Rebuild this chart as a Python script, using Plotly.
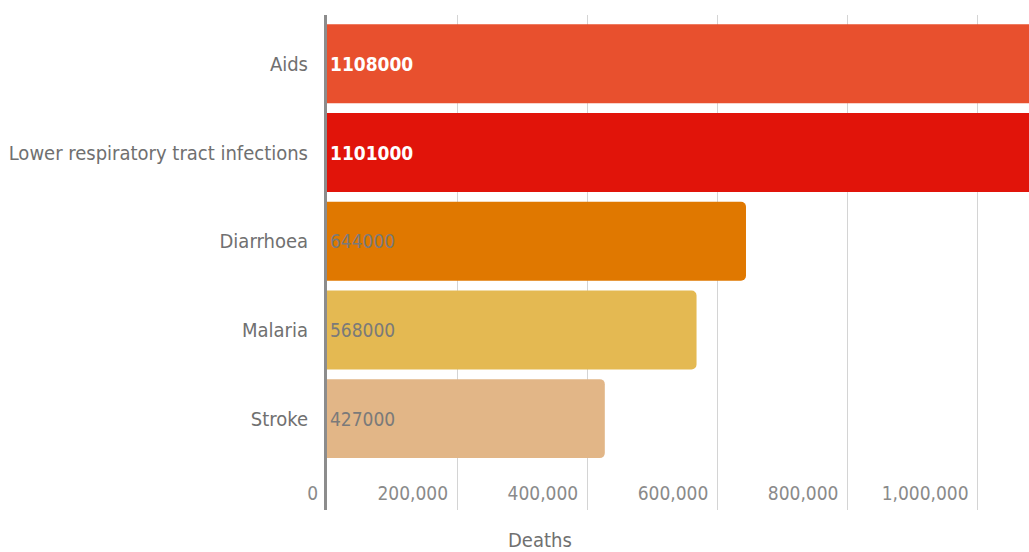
import plotly.graph_objects as go

# Leading causes of death
causes = ["Aids", "Lower respiratory tract infections", "Diarrhoea", "Malaria", "Stroke"]
deaths = [1108000, 1101000, 644000, 568000, 427000]
bar_colors = ["#E8502E", "#E1140A", "#E07800", "#E4B952", "#E2B687"]
label_colors = ["#FFFFFF", "#FFFFFF", "#7A7A7A", "#7A7A7A", "#7A7A7A"]
label_bold = [True, True, False, False, False]
x_ticks = [0, 200000, 400000, 600000, 800000, 1000000]

FONT = "Liberation Sans Narrow, DejaVu Sans Condensed, Arial Narrow, sans-serif"

labels = [f"<b>{v}</b>" if b else str(v) for v, b in zip(deaths, label_bold)]

fig = go.Figure(
    go.Bar(
        y=causes,
        x=deaths,
        orientation="h",
        width=0.89,
        marker=dict(color=bar_colors, line=dict(width=0)),
        text=labels,
        textposition="inside",
        insidetextanchor="start",
        textangle=0,
        constraintext="none",
        textfont=dict(family=FONT, size=19, color=label_colors),
        hoverinfo="x+y",
    )
)

fig.update_layout(
    width=1029,
    height=552,
    margin=dict(l=327, r=0, t=15, b=42),
    paper_bgcolor="white",
    plot_bgcolor="white",
    barcornerradius=5,
    showlegend=False,
    font=dict(family=FONT, size=20, color="#707070"),
    xaxis=dict(
        range=[0, 1079000],
        tickvals=x_ticks,
        tickformat=",",
        ticklabelposition="inside left",
        ticklabeloverflow="allow",
        ticklabelshift=-9,
        showgrid=True,
        gridcolor="#d4d4d4",
        gridwidth=1,
        zeroline=False,
        showline=False,
        ticks="",
        tickfont=dict(size=19, color="#8a8a8a"),
        fixedrange=True,
    ),
    yaxis=dict(
        categoryorder="array",
        categoryarray=causes,
        range=[5.03, -0.55],
        showgrid=False,
        zeroline=False,
        showline=True,
        linecolor="#8c8c8c",
        linewidth=3,
        ticks="",
        ticklabelstandoff=12,
        tickfont=dict(size=20, color="#707070"),
        fixedrange=True,
    ),
    annotations=[
        dict(
            text="Deaths",
            xref="paper",
            yref="paper",
            x=(540 - 327) / 702,
            y=0,
            yshift=-30,
            xanchor="center",
            yanchor="middle",
            showarrow=False,
            font=dict(family=FONT, size=20, color="#707070"),
        )
    ],
)

fig.write_html("out.html")
